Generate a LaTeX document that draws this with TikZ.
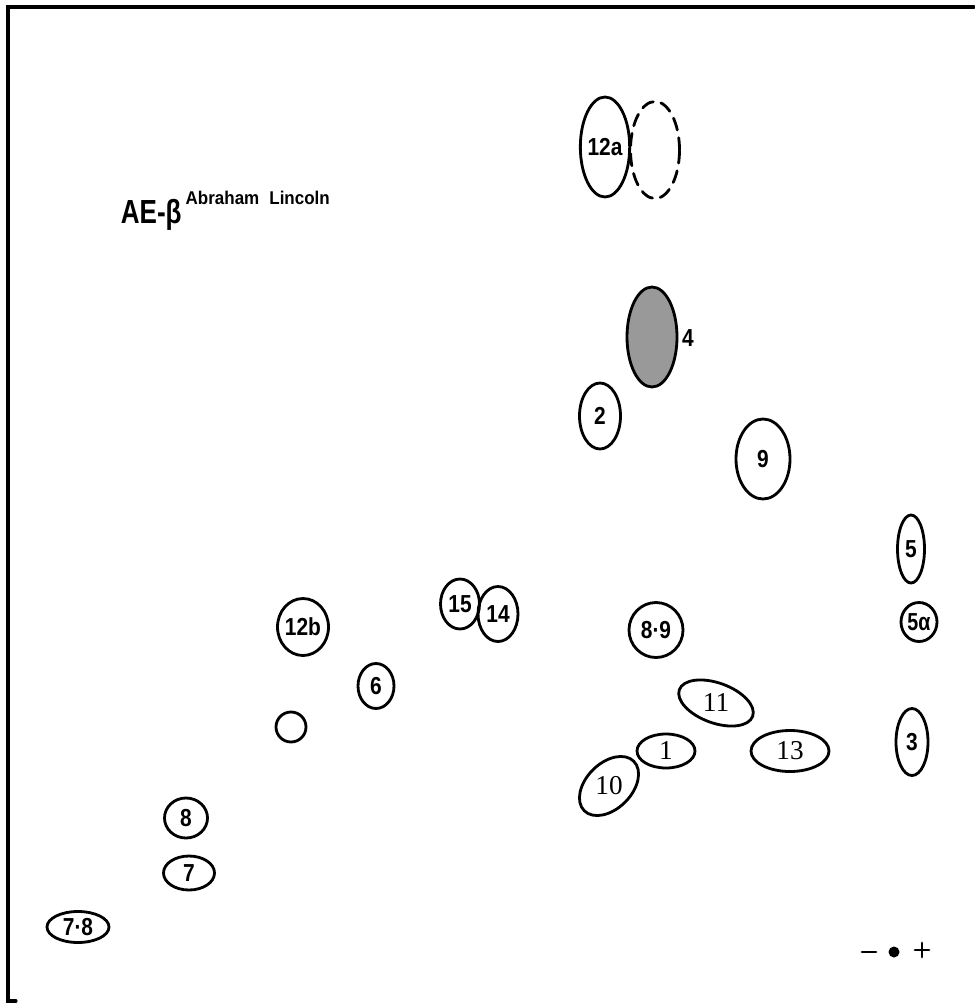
\documentclass[tikz,border=0pt]{standalone}
\usepackage{fontspec}
\setmainfont{Liberation Serif}
\setsansfont{Liberation Sans}
\usetikzlibrary{shapes.geometric}
\newcommand{\lbl}[1]{\scalebox{0.85}[1]{#1}}

\begin{document}
\begin{tikzpicture}[x=0.2mm,y=-0.2mm,line cap=round,
  spot/.style={ellipse,draw,line width=1.6pt,inner sep=0pt,font=\sffamily\bfseries\fontsize{14}{14}\selectfont},
  spotrm/.style={spot,font=\rmfamily\fontsize{15.5}{15.5}\selectfont},
  ghost/.style={spot,dash pattern=on 7pt off 4.5pt}]
\useasboundingbox (0,0) rectangle (974,1006);
\draw[line width=1.8pt] (974,7) -- (8,7) -- (8,1001) -- (16,1001);
% title
\node[anchor=base west,font=\sffamily\bfseries\fontsize{19}{19}\selectfont,xscale=0.78] (title) at (116,223) {AE-β};
\node[anchor=base west,font=\sffamily\bfseries\fontsize{10.5}{12}\selectfont,xscale=0.92] (donor) at (180,205) {Abraham\hspace{2.2mm}Lincoln};
% spots, upper part
\node[spot,minimum width=9mm,minimum height=20mm] (s12a) at (605,147) {\lbl{12a}};
\node[ghost,minimum width=9.8mm,minimum height=19.4mm] (s12x) at (655,150) {};
\node[spot,fill=black!40,minimum width=10mm,minimum height=20mm] (s4) at (652,337) {};
\node[font=\sffamily\bfseries\fontsize{14}{14}\selectfont] (l4) at (688,338) {\lbl{4}};
\node[spot,minimum width=8.2mm,minimum height=13.2mm] (s2) at (600,416) {\lbl{2}};
\node[spot,minimum width=10.8mm,minimum height=16mm] (s9) at (763,459) {\lbl{9}};
% spots, right column
\node[spot,minimum width=5.4mm,minimum height=13.6mm] (s5) at (911,549) {\lbl{5}};
\node[spot,minimum width=7.2mm,minimum height=7.8mm] (s5a) at (919,622) {\scalebox{0.8}[1]{5α}};
\node[spot,minimum width=6.4mm,minimum height=13.4mm] (s3) at (912,742) {\lbl{3}};
% spots, middle
\node[spot,minimum width=10.8mm,minimum height=11mm] (s89) at (656,630) {\lbl{8·9}};
\node[spotrm,minimum width=15.6mm,minimum height=8mm,rotate=-20] (s11) at (716,703) {\rotatebox{20}{11}};
\node[spotrm,minimum width=11.6mm,minimum height=6.8mm] (s1) at (666,751) {1};
\node[spotrm,minimum width=15.6mm,minimum height=8.2mm] (s13) at (790,751) {13};
\node[spotrm,minimum width=14mm,minimum height=6.4mm,rotate=45] (s10) at (609,786) {\rotatebox{-45}{10}};
\node[spot,minimum width=7.8mm,minimum height=10mm] (s15) at (460,604) {\lbl{15}};
\node[spot,minimum width=8mm,minimum height=11mm] (s14) at (498,614) {\lbl{14}};
% spots, left part
\node[spot,minimum width=10.2mm,minimum height=11.4mm] (s12b) at (303,627) {\lbl{12b}};
\node[spot,minimum width=7.2mm,minimum height=9mm] (s6) at (376,686) {\lbl{6}};
\node[spot,minimum width=6mm,minimum height=6mm] (s0) at (291,727) {};
\node[spot,minimum width=8.6mm,minimum height=8mm] (s8) at (186,818) {\lbl{8}};
\node[spot,minimum width=10.2mm,minimum height=6.8mm] (s7) at (189,873) {\lbl{7}};
\node[spot,minimum width=12.4mm,minimum height=6.2mm] (s78) at (78,927) {\lbl{7·8}};
% polarity
\draw[line width=1.6pt] (862,952) -- (876,952);
\fill (894,952) circle[radius=5.5];
\draw[line width=1.6pt] (915,950) -- (929,950) (922,943) -- (922,957);
\end{tikzpicture}
\end{document}
